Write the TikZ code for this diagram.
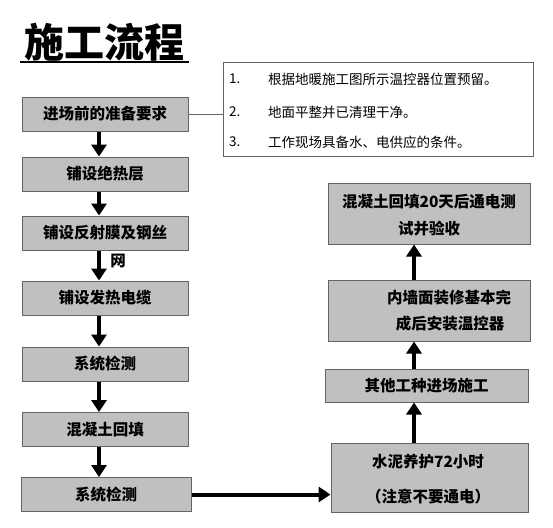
\documentclass[tikz,border=0pt]{standalone}
\usepackage{fontspec}
\newfontfamily\cjk{Noto Sans CJK SC}
\usetikzlibrary{arrows.meta}
\definecolor{boxfill}{RGB}{192,192,192}
\definecolor{boxline}{RGB}{100,100,100}
\tikzset{
  stepbox/.style={draw=boxline, line width=1pt, fill=boxfill, minimum height=34pt, inner sep=0pt, font=\cjk\bfseries\fontsize{15.5}{18}\selectfont},
  bigarrow/.style={line width=4pt, -{Triangle[width=15pt,length=12pt]}},
  txt/.style={inner sep=0pt, font=\cjk\bfseries\fontsize{15.5}{18}\selectfont},
  notetxt/.style={inner sep=0pt, anchor=west, font=\cjk\fontsize{13.5}{16}\selectfont}
}
\begin{document}
\begin{tikzpicture}[x=1pt,y=-1pt]
\useasboundingbox (0,0) rectangle (553,527);
% title
\node[inner sep=0pt, font=\cjk\bfseries\fontsize{40}{44}\selectfont] (title) at (104,42) {施工流程};
\draw[line width=1.8pt] (20,62) coordinate (u1) -- (189,62) coordinate (u2);
% left column
\node[stepbox, minimum width=166pt] (b1) at (105,114) {进场前的准备要求};
\node[stepbox, minimum width=166pt] (b2) at (105,174) {铺设绝热层};
\node[stepbox, minimum width=166pt] (b3) at (105,233) {铺设反射膜及钢丝};
\node[stepbox, minimum width=166pt] (b4) at (105,298) {铺设发热电缆};
\node[stepbox, minimum width=166pt] (b5) at (105,364) {系统检测};
\node[stepbox, minimum width=166pt] (b6) at (105,429.5) {混凝土回填};
\node[stepbox, minimum width=170pt] (b7) at (106,494.5) {系统检测};
\node[txt] (wang) at (118,261) {网};
\foreach \a/\b in {b1/b2,b2/b3,b3/b4,b4/b5,b5/b6,b6/b7}
  \draw[bigarrow] (\a.south -| 99,0) -- (\b.north -| 99,0);
% note box
\node[draw=boxline, line width=0.8pt, minimum width=310pt, minimum height=94pt, inner sep=0pt] (note) at (378,109) {};
\draw[line width=0.8pt, boxline] (b1.east) -- (b1.east -| note.west);
\node[notetxt] (n1a) at (229,79) {1.};
\node[notetxt] (n1b) at (268,79) {根据地暖施工图所示温控器位置预留。};
\node[notetxt] (n2a) at (229,112) {2.};
\node[notetxt] (n2b) at (268,112) {地面平整并已清理干净。};
\node[notetxt] (n3a) at (229,142) {3.};
\node[notetxt] (n3b) at (268,142) {工作现场具备水、电供应的条件。};
% right column
\node[stepbox, minimum width=202pt, minimum height=61pt] (r1) at (429,213.5) {};
\node[txt] (r1a) at (429,202) {混凝土回填20天后通电测};
\node[txt] (r1b) at (429,229) {试并验收};
\node[stepbox, minimum width=202pt, minimum height=61pt] (r2) at (429,310.5) {};
\node[txt] (r2a) at (449,298) {内墙面装修基本完};
\node[txt] (r2b) at (450,324) {成后安装温控器};
\node[stepbox, minimum width=203pt, minimum height=33pt] (r3) at (426.5,385.5) {其他工种进场施工};
\node[stepbox, minimum width=197pt, minimum height=69pt] (r4) at (429.5,477.5) {};
\node[txt] (r4a) at (428,462) {水泥养护72小时};
\node[txt] (r4b) at (428,497) {（注意不要通电）};
\draw[bigarrow] (r4.north -| 414,0) -- (r3.south -| 414,0);
\draw[bigarrow] (r3.north -| 414,0) -- (r2.south -| 414,0);
\draw[bigarrow] (r2.north -| 414,0) -- (r1.south -| 414,0);
\draw[bigarrow] (b7.east) -- (b7.east -| r4.west);
\end{tikzpicture}
\end{document}
